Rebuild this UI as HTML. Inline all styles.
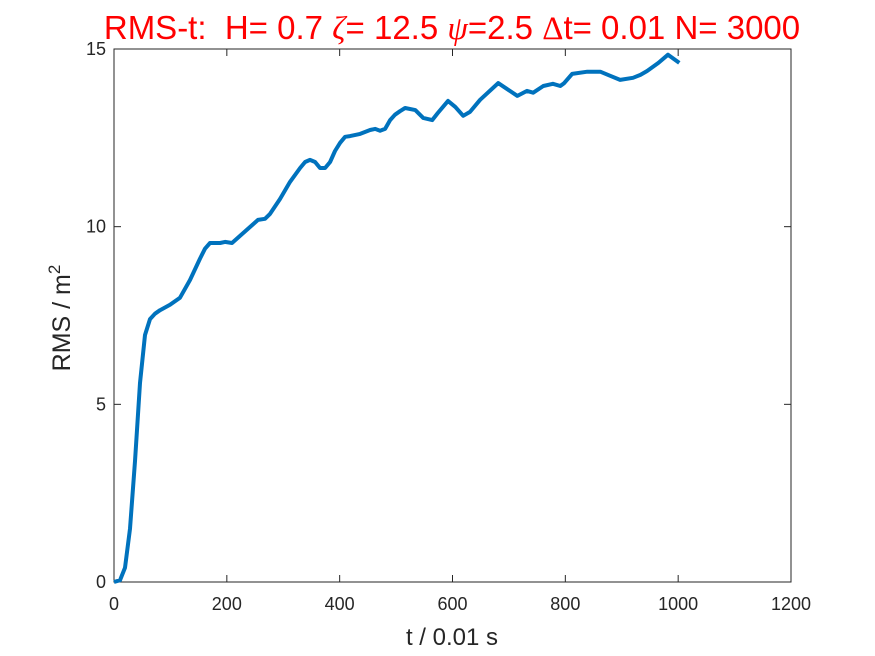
<!DOCTYPE html>
<html><head><meta charset="utf-8"><style>
html,body{margin:0;padding:0;background:#fff;width:875px;height:656px;overflow:hidden}
svg{display:block}
text{font-family:"Liberation Sans",sans-serif}
</style></head><body>
<svg id="chart" width="875" height="656">
<text x="452" y="39" text-anchor="middle" font-size="33" fill="#ff0000" style="white-space:pre">RMS-t:  H= 0.7 <tspan font-family="Liberation Serif" font-style="italic">ζ</tspan>= 12.5 <tspan font-family="Liberation Serif" font-style="italic">ψ</tspan>=2.5 <tspan font-family="Liberation Serif">Δ</tspan>t= 0.01 N= 3000</text>
<g id="axes"></g>
<path id="series" fill="none" stroke="#0072bd" stroke-width="4" stroke-linejoin="round"></path>
<text x="452" y="645" text-anchor="middle" font-size="24" fill="#262626">t / 0.01 s</text>
<text transform="translate(70,318) rotate(-90)" text-anchor="middle" font-size="25" fill="#262626">RMS / m<tspan dy="-10" font-size="17">2</tspan></text>
</svg>
<script>
const tVals=[0,10.6,19.5,28.4,37.2,46.1,55,63.8,72.7,81.6,99.3,117,134.8,152.5,161.3,170.2,188,196.8,209.2,223.4,241.1,255.3,267.7,276.6,294.3,312,329.8,338.7,347.5,356.4,365.2,374.1,383,391.8,400.7,409.6,418.4,436.2,453.9,462.8,471.6,480.5,489.4,498,507,516,534,548,564,574,592,605,619,631,649,681,715,732,743,761,778,791,798,812,839,862,879,897,920,933,945,965,982,1002];
const rmsVals=[0,0.05,0.4,1.5,3.4,5.6,6.95,7.4,7.55,7.65,7.8,8.0,8.5,9.1,9.38,9.54,9.54,9.57,9.54,9.74,9.99,10.19,10.22,10.36,10.78,11.26,11.65,11.82,11.88,11.82,11.65,11.65,11.82,12.13,12.36,12.53,12.55,12.61,12.72,12.75,12.7,12.75,13.0,13.15,13.25,13.34,13.28,13.06,13.0,13.2,13.54,13.37,13.12,13.23,13.57,14.04,13.68,13.82,13.77,13.96,14.02,13.96,14.04,14.3,14.36,14.36,14.25,14.13,14.19,14.27,14.38,14.61,14.84,14.61];
const xTicks=[0,200,400,600,800,1000,1200];
const yTicks=[0,5,10,15];
const L=114,R=791,T=49,B=582;
const xs=v=>L+(v/1200)*(R-L);
const ys=v=>B-(v/15)*(B-T);
const NS="http://www.w3.org/2000/svg";
const ax=document.getElementById('axes');
function mk(tag,attrs){const e=document.createElementNS(NS,tag);for(const k in attrs)e.setAttribute(k,attrs[k]);ax.appendChild(e);return e;}
const box=mk('rect',{x:L,y:T,width:R-L,height:B-T,fill:'#fff',stroke:'#262626','stroke-width':1});


xTicks.forEach(v=>{const x=xs(v);
mk('line',{x1:x,x2:x,y1:B,y2:B-7,stroke:'#262626'});
mk('line',{x1:x,x2:x,y1:T,y2:T+7,stroke:'#262626'});
const t=mk('text',{x:x,y:B+28,'text-anchor':'middle','font-size':18,fill:'#262626'});t.textContent=v;

});
yTicks.forEach(v=>{const y=ys(v);
mk('line',{x1:L,x2:L+7,y1:y,y2:y,stroke:'#262626'});
mk('line',{x1:R,x2:R-7,y1:y,y2:y,stroke:'#262626'});
const t=mk('text',{x:L-8,y:y+6,'text-anchor':'end','font-size':18,fill:'#262626'});t.textContent=v;

});
document.getElementById('series').setAttribute('d',tVals.map((t,i)=>(i?'L':'M')+xs(t).toFixed(1)+','+ys(rmsVals[i]).toFixed(1)).join(''));
</script>
</body></html>
